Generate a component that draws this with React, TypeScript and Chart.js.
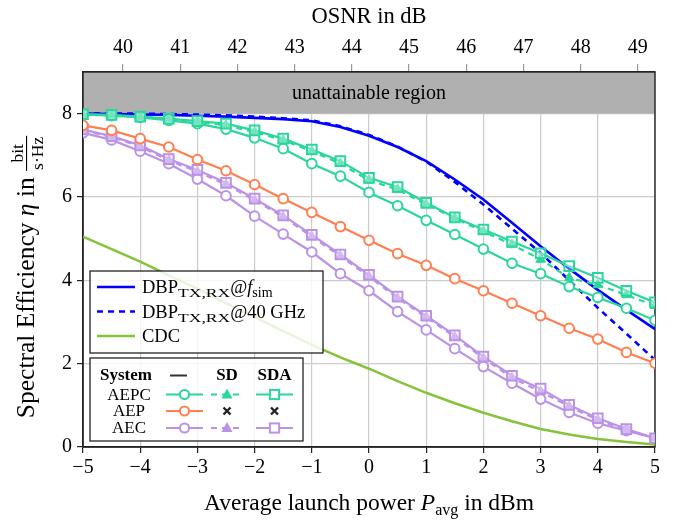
import React, { useEffect, useRef } from 'react';
import { Chart, registerables } from 'chart.js';

Chart.register(...registerables);

// ---------- data ----------
const powers = [-5, -4.5, -4, -3.5, -3, -2.5, -2, -1.5, -1, -0.5, 0, 0.5, 1, 1.5, 2, 2.5, 3, 3.5, 4, 4.5, 5];
const osnrTicks = [40, 41, 42, 43, 44, 45, 46, 47, 48, 49];
const yTicks = [0, 2, 4, 6, 8];
const xTicks = [-5, -4, -3, -2, -1, 0, 1, 2, 3, 4, 5];

const dbpFsim = [8.0, 7.99, 7.98, 7.97, 7.95, 7.93, 7.9, 7.87, 7.82, 7.68, 7.47, 7.2, 6.86, 6.42, 5.94, 5.38, 4.82, 4.28, 3.77, 3.29, 2.83];
const dbp40 = [8.01, 8.0, 8.0, 7.99, 7.98, 7.96, 7.93, 7.89, 7.84, 7.7, 7.49, 7.21, 6.85, 6.36, 5.82, 5.24, 4.66, 4.0, 3.34, 2.72, 2.09];
const cdc = [5.05, 4.75, 4.45, 4.12, 3.8, 3.45, 3.12, 2.78, 2.45, 2.15, 1.88, 1.58, 1.3, 1.05, 0.82, 0.62, 0.43, 0.3, 0.19, 0.12, 0.06];

const aepcPlain = [7.98, 7.95, 7.91, 7.84, 7.76, 7.63, 7.42, 7.16, 6.8, 6.5, 6.11, 5.79, 5.44, 5.1, 4.75, 4.41, 4.16, 3.85, 3.59, 3.33, 3.04];
const aepcSD = [7.98, 7.96, 7.92, 7.87, 7.8, 7.72, 7.56, 7.36, 7.1, 6.8, 6.4, 6.18, 5.82, 5.49, 5.17, 4.86, 4.5, 4.06, 3.89, 3.65, 3.39];
const aepcSDA = [7.99, 7.97, 7.93, 7.88, 7.82, 7.76, 7.6, 7.4, 7.14, 6.86, 6.46, 6.24, 5.86, 5.51, 5.22, 4.93, 4.65, 4.34, 4.06, 3.75, 3.47];
const aepPlain = [7.72, 7.6, 7.4, 7.2, 6.9, 6.63, 6.3, 5.96, 5.63, 5.29, 4.96, 4.64, 4.36, 4.04, 3.75, 3.45, 3.15, 2.85, 2.59, 2.27, 2.01];
const aecPlain = [7.54, 7.37, 7.1, 6.8, 6.43, 6.03, 5.54, 5.11, 4.68, 4.16, 3.75, 3.25, 2.81, 2.36, 1.93, 1.53, 1.15, 0.83, 0.57, 0.39, 0.21];
const aecSD = [7.6, 7.44, 7.21, 6.88, 6.61, 6.3, 5.92, 5.52, 5.05, 4.58, 4.09, 3.57, 3.12, 2.64, 2.13, 1.66, 1.33, 0.97, 0.65, 0.41, 0.21];
const aecSDA = [7.62, 7.46, 7.24, 6.91, 6.65, 6.34, 5.96, 5.56, 5.09, 4.62, 4.13, 3.61, 3.15, 2.68, 2.17, 1.71, 1.4, 1.01, 0.69, 0.43, 0.21];

// ---------- style ----------
const SERIF = '"Liberation Serif", "Times New Roman", Times, serif';
const C_AEPC = '#2ad69c';
const C_AEP = '#ff7f50';
const C_AEC = '#bb92e6';
const C_CDC = '#86c23c';
const C_DBP = '#0000ff';
const OSNR_OFFSET = 44.3;

const pts = (arr: number[]) => powers.map((x, i) => ({ x, y: arr[i] }));
const fmt = (v: number) => (v < 0 ? '\u2212' + Math.abs(v) : String(v));

type Run = { t: string; f: string; dy?: number; sx?: number };

function runsWidth(ctx: CanvasRenderingContext2D, runs: Run[]) {
  let w = 0;
  for (const r of runs) {
    ctx.font = r.f;
    w += ctx.measureText(r.t).width * (r.sx || 1);
  }
  return w;
}

function drawRuns(ctx: CanvasRenderingContext2D, runs: Run[], x: number, y: number) {
  let cx = x;
  ctx.textAlign = 'left';
  ctx.textBaseline = 'alphabetic';
  for (const r of runs) {
    ctx.font = r.f;
    const sx = r.sx || 1;
    if (sx !== 1) {
      ctx.save();
      ctx.translate(cx, y + (r.dy || 0));
      ctx.scale(sx, 1);
      ctx.fillText(r.t, 0, 0);
      ctx.restore();
    } else {
      ctx.fillText(r.t, cx, y + (r.dy || 0));
    }
    cx += ctx.measureText(r.t).width * sx;
  }
  return cx;
}

function drawMarker(ctx: CanvasRenderingContext2D, kind: string, x: number, y: number, color: string) {
  ctx.save();
  ctx.strokeStyle = color;
  ctx.fillStyle = color;
  ctx.lineWidth = 2;
  if (kind === 'circle') {
    ctx.beginPath();
    ctx.arc(x, y, 4.6, 0, Math.PI * 2);
    ctx.fillStyle = '#fff';
    ctx.fill();
    ctx.stroke();
  } else if (kind === 'rect') {
    ctx.fillStyle = '#fff';
    ctx.fillRect(x - 4.6, y - 4.6, 9.2, 9.2);
    ctx.strokeRect(x - 4.6, y - 4.6, 9.2, 9.2);
  } else if (kind === 'triangle') {
    ctx.beginPath();
    ctx.moveTo(x, y - 6);
    ctx.lineTo(x + 5.5, y + 4);
    ctx.lineTo(x - 5.5, y + 4);
    ctx.closePath();
    ctx.fill();
  } else if (kind === 'cross') {
    ctx.strokeStyle = '#222';
    ctx.lineWidth = 2.4;
    ctx.beginPath();
    ctx.moveTo(x - 3.5, y - 3.5);
    ctx.lineTo(x + 3.5, y + 3.5);
    ctx.moveTo(x + 3.5, y - 3.5);
    ctx.lineTo(x - 3.5, y + 3.5);
    ctx.stroke();
  }
  ctx.restore();
}

function sampleLine(ctx: CanvasRenderingContext2D, x1: number, x2: number, y: number, color: string, dash: number[], width = 2.2) {
  ctx.save();
  ctx.strokeStyle = color;
  ctx.lineWidth = width;
  ctx.setLineDash(dash);
  ctx.beginPath();
  ctx.moveTo(x1, y);
  ctx.lineTo(x2, y);
  ctx.stroke();
  ctx.restore();
}

const decorPlugin = {
  id: 'decor',
  beforeDatasetsDraw(chart: any) {
    const { ctx, chartArea, scales } = chart;
    const y9 = scales.y.getPixelForValue(9);
    const y8 = scales.y.getPixelForValue(8);
    ctx.save();
    ctx.fillStyle = '#b0b0b0';
    ctx.fillRect(chartArea.left, y9, chartArea.right - chartArea.left, y8 - y9);
    ctx.fillStyle = '#000';
    ctx.font = `20px ${SERIF}`;
    ctx.textAlign = 'center';
    ctx.textBaseline = 'middle';
    ctx.fillText('unattainable region', (chartArea.left + chartArea.right) / 2, (y8 + y9) / 2 + 1);
    ctx.strokeStyle = '#222';
    ctx.lineWidth = 1.4;
    ctx.strokeRect(chartArea.left, chartArea.top, chartArea.right - chartArea.left, chartArea.bottom - chartArea.top);
    ctx.restore();
  },
  afterDraw(chart: any) {
    const { ctx, chartArea } = chart;
    ctx.save();
    ctx.fillStyle = '#000';
    const cxm = (chartArea.left + chartArea.right) / 2;

    // top title
    ctx.font = `22.5px ${SERIF}`;
    ctx.textAlign = 'center';
    ctx.textBaseline = 'alphabetic';
    ctx.fillText('OSNR in dB', cxm, 23);

    // bottom title
    const xr: Run[] = [
      { t: 'Average launch power ', f: `23.5px ${SERIF}` },
      { t: 'P', f: `italic 23.5px ${SERIF}` },
      { t: 'avg', f: `16px ${SERIF}`, dy: 5 },
      { t: ' in dBm', f: `23.5px ${SERIF}` },
    ];
    const xw = runsWidth(ctx, xr);
    drawRuns(ctx, xr, cxm - xw / 2, 510);

    // y title (rotated)
    const yr: Run[] = [
      { t: 'Spectral Efficiency ', f: `25.5px ${SERIF}` },
      { t: '\u03b7', f: `italic 25.5px ${SERIF}` },
      { t: ' in ', f: `25.5px ${SERIF}` },
    ];
    ctx.font = `17.5px ${SERIF}`;
    const fracW = Math.max(ctx.measureText('bit').width, ctx.measureText('s\u00b7Hz').width) + 2;
    const yw = runsWidth(ctx, yr) + fracW;
    ctx.save();
    ctx.translate(34, 277);
    ctx.rotate(-Math.PI / 2);
    const endX = drawRuns(ctx, yr, -yw / 2, 0);
    ctx.font = `17.5px ${SERIF}`;
    ctx.textAlign = 'center';
    const fc = endX + fracW / 2;
    ctx.fillText('bit', fc, -11);
    ctx.fillText('s\u00b7Hz', fc, 9);
    ctx.fillRect(endX, -8, fracW, 1.1);
    ctx.restore();

    // ---------- legend 1 ----------
    ctx.fillStyle = 'rgba(255,255,255,0.82)';
    ctx.fillRect(90, 271, 233, 82);
    ctx.strokeStyle = '#111';
    ctx.lineWidth = 1.2;
    ctx.strokeRect(90, 271, 233, 82);
    ctx.fillStyle = '#000';
    const l1 = [287, 311.5, 336];
    sampleLine(ctx, 97, 135, l1[0], C_DBP, [], 2.6);
    sampleLine(ctx, 97, 135, l1[1], C_DBP, [6, 5], 2.6);
    sampleLine(ctx, 97, 135, l1[2], C_CDC, [], 2.6);
    const tx = 142;
    drawRuns(ctx, [
      { t: 'DBP', f: `18.5px ${SERIF}` },
      { t: 'TX,RX', f: `13px ${SERIF}`, dy: 4, sx: 1.35 },
      { t: '@', f: `18.5px ${SERIF}` },
      { t: 'f', f: `italic 18.5px ${SERIF}` },
      { t: 'sim', f: `14px ${SERIF}`, dy: 4 },
    ], tx, l1[0] + 6);
    drawRuns(ctx, [
      { t: 'DBP', f: `18.5px ${SERIF}` },
      { t: 'TX,RX', f: `13px ${SERIF}`, dy: 4, sx: 1.35 },
      { t: '@40 GHz', f: `18.5px ${SERIF}` },
    ], tx, l1[1] + 6);
    drawRuns(ctx, [{ t: 'CDC', f: `18.5px ${SERIF}` }], tx, l1[2] + 6);

    // ---------- legend 2 ----------
    ctx.fillStyle = 'rgba(255,255,255,0.82)';
    ctx.fillRect(90, 358, 213, 83);
    ctx.strokeStyle = '#111';
    ctx.lineWidth = 1.2;
    ctx.strokeRect(90, 358, 213, 83);
    ctx.fillStyle = '#000';
    ctx.textAlign = 'center';
    ctx.textBaseline = 'middle';
    ctx.font = `bold 17px ${SERIF}`;
    ctx.fillText('System', 126, 376);
    ctx.fillText('SD', 227, 376);
    ctx.fillText('SDA', 274.5, 376);
    sampleLine(ctx, 170, 187, 375.5, '#333', [], 2);
    const rows = [
      { name: 'AEPC', color: C_AEPC, y: 394.5, sd: true },
      { name: 'AEP', color: C_AEP, y: 411, sd: false },
      { name: 'AEC', color: C_AEC, y: 428, sd: true },
    ];
    for (const r of rows) {
      ctx.fillStyle = '#000';
      ctx.font = `17px ${SERIF}`;
      ctx.textAlign = 'center';
      ctx.textBaseline = 'middle';
      ctx.fillText(r.name, 129, r.y + 1);
      sampleLine(ctx, 166, 203, r.y, r.color, []);
      drawMarker(ctx, 'circle', 184.5, r.y, r.color);
      if (r.sd) {
        sampleLine(ctx, 211, 243, r.y, r.color, [6, 5]);
        drawMarker(ctx, 'triangle', 227, r.y, r.color);
        sampleLine(ctx, 256, 293, r.y, r.color, []);
        drawMarker(ctx, 'rect', 274.5, r.y, r.color);
      } else {
        drawMarker(ctx, 'cross', 227, r.y, r.color);
        drawMarker(ctx, 'cross', 274.5, r.y, r.color);
      }
    }
    ctx.restore();
  },
};

function lineDs(label: string, data: number[], color: string, opts: any = {}) {
  return {
    label,
    data: pts(data),
    borderColor: color,
    backgroundColor: color,
    borderWidth: 2.2,
    pointRadius: 0,
    tension: 0,
    fill: false,
    ...opts,
  };
}

const circleOpts = (c: string) => ({ pointStyle: 'circle', pointRadius: 4.8, pointBorderWidth: 2, pointBackgroundColor: '#fff', pointBorderColor: c });
const rectOpts = (c: string) => ({ pointStyle: 'rect', pointRadius: 6.8, pointBorderWidth: 2, pointBackgroundColor: 'rgba(255,255,255,0.35)', pointBorderColor: c });
const triOpts = (c: string) => ({ pointStyle: 'triangle', pointRadius: 5.5, pointBorderWidth: 1, pointBackgroundColor: c, pointBorderColor: c, borderDash: [6, 5] });

export default function App() {
  const ref = useRef<HTMLCanvasElement | null>(null);
  useEffect(() => {
    if (!ref.current) return;
    const chart = new Chart(ref.current, {
      type: 'line',
      data: {
        datasets: [
          lineDs('AEPC SDA', aepcSDA, C_AEPC, rectOpts(C_AEPC)),
          lineDs('AEPC SD', aepcSD, C_AEPC, triOpts(C_AEPC)),
          lineDs('AEPC', aepcPlain, C_AEPC, circleOpts(C_AEPC)),
          lineDs('AEP', aepPlain, C_AEP, circleOpts(C_AEP)),
          lineDs('AEC SDA', aecSDA, C_AEC, rectOpts(C_AEC)),
          lineDs('AEC SD', aecSD, C_AEC, triOpts(C_AEC)),
          lineDs('AEC', aecPlain, C_AEC, circleOpts(C_AEC)),
          lineDs('DBP 40 GHz', dbp40, C_DBP, { borderDash: [6, 5], borderWidth: 2.6 }),
          lineDs('DBP fsim', dbpFsim, C_DBP, { borderWidth: 2.6 }),
          lineDs('CDC', cdc, C_CDC, { borderWidth: 2.6 }),
        ] as any,
      },
      options: {
        responsive: false,
        animation: false,
        devicePixelRatio: 1,
        layout: { padding: { left: 0, right: 21, top: 0, bottom: 0 } },
        plugins: { legend: { display: false }, tooltip: { enabled: false } },
        scales: {
          x: {
            type: 'linear',
            position: 'bottom',
            min: -5,
            max: 5,
            afterBuildTicks: (s: any) => { s.ticks = xTicks.map((v) => ({ value: v })); },
            afterFit: (s: any) => { s.height = 73; },
            ticks: { callback: (v: any) => fmt(Number(v)), font: { family: SERIF, size: 20 }, color: '#000', padding: 3, maxRotation: 0 },
            grid: { color: '#cccccc', lineWidth: 1.2, tickColor: '#222', tickLength: 6, drawTicks: true },
            border: { display: true, color: '#222', width: 1.4 },
          },
          x2: {
            type: 'linear',
            position: 'top',
            min: -5 + OSNR_OFFSET,
            max: 5 + OSNR_OFFSET,
            afterBuildTicks: (s: any) => { s.ticks = osnrTicks.map((v) => ({ value: v })); },
            afterFit: (s: any) => { s.height = 72; },
            ticks: { font: { family: SERIF, size: 20 }, color: '#000', padding: 4, maxRotation: 0 },
            grid: { drawOnChartArea: false, tickColor: '#999', tickLength: 8, lineWidth: 1.2 },
            border: { display: true, color: '#222', width: 1.4 },
          },
          y: {
            type: 'linear',
            min: 0,
            max: 9,
            afterBuildTicks: (s: any) => { s.ticks = yTicks.map((v) => ({ value: v })); },
            afterFit: (s: any) => { s.width = 83; },
            ticks: { font: { family: SERIF, size: 20 }, color: '#000', padding: 5 },
            grid: { color: '#cccccc', lineWidth: 1.2, tickColor: '#222', tickLength: 6 },
            border: { display: true, color: '#222', width: 1.4 },
          },
        },
      } as any,
      plugins: [decorPlugin],
    });
    return () => chart.destroy();
  }, []);
  return (
    <div style={{ position: 'fixed', left: 0, top: 0, width: 676, height: 520, background: '#fff' }}>
      <canvas ref={ref} width={676} height={520} style={{ width: 676, height: 520, display: 'block' }} />
    </div>
  );
}
